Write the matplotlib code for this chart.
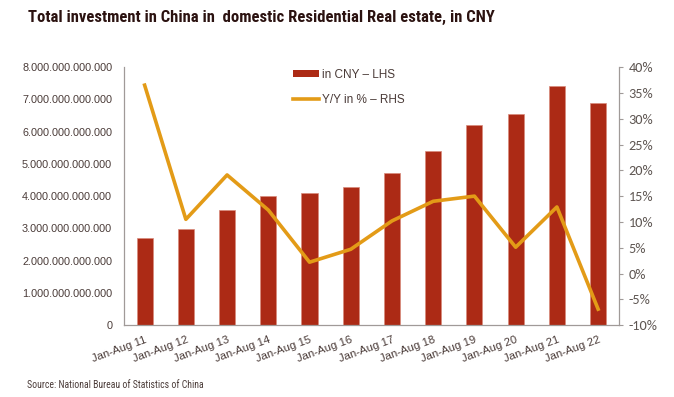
import numpy as np
import matplotlib
matplotlib.use('Agg')
import matplotlib.pyplot as plt
from matplotlib.ticker import FuncFormatter, MultipleLocator
from matplotlib.lines import Line2D
from matplotlib.patches import Patch

# Данные
labels = ['Jan-Aug 11', 'Jan-Aug 12', 'Jan-Aug 13', 'Jan-Aug 14', 'Jan-Aug 15', 'Jan-Aug 16',
          'Jan-Aug 17', 'Jan-Aug 18', 'Jan-Aug 19', 'Jan-Aug 20', 'Jan-Aug 21', 'Jan-Aug 22']
invest_cny = [2.70e12, 2.98e12, 3.57e12, 4.00e12, 4.09e12, 4.28e12,
              4.71e12, 5.40e12, 6.20e12, 6.54e12, 7.41e12, 6.88e12]
yoy_pct = [36.5, 10.5, 19.1, 12.3, 2.2, 4.7, 10.2, 14.0, 15.0, 5.1, 12.9, -6.9]

bar_color = '#AC2A15'
line_color = '#E39B17'
text_color = '#4a3b38'
axis_color = '#a09a98'

narrow = ['Roboto Condensed', 'Liberation Sans', 'DejaVu Sans']

fig = plt.figure(figsize=(6.74, 3.97), dpi=100)
ax = fig.add_axes([0.184, 0.181, 0.734, 0.650])
ax2 = ax.twinx()

x = np.arange(len(labels))
ax.bar(x, invest_cny, width=0.39, color=bar_color, edgecolor='#d88a7c', linewidth=0.5, zorder=2)
ax2.plot(x, yoy_pct, color=line_color, linewidth=2.6, zorder=3)

ax.set_xlim(-0.5, len(labels) - 0.5)
ax.set_ylim(0, 8e12)
ax.yaxis.set_major_locator(MultipleLocator(1e12))
ax.yaxis.set_major_formatter(FuncFormatter(lambda v, p: f'{int(round(v)):,}'.replace(',', '.')))
ax2.set_ylim(-10, 40)
ax2.yaxis.set_major_locator(MultipleLocator(5))
ax2.yaxis.set_major_formatter(FuncFormatter(lambda v, p: f'{int(round(v))}%'))

ax.set_xticks(x)
ax.set_xticklabels(labels, rotation=20, ha='right', rotation_mode='anchor',
                   fontsize=8.2, family='Liberation Sans', color=text_color)
ax.tick_params(axis='x', length=0, pad=7)
ax.tick_params(axis='y', length=0, pad=8.5, labelsize=7.8, labelcolor=text_color)
for t in ax.get_yticklabels():
    t.set_family('Liberation Sans')
ax2.tick_params(axis='y', length=3, width=0.8, color=axis_color, pad=4,
                labelsize=10.3, labelcolor='#5e5652')
for t in ax2.get_yticklabels():
    t.set_family(['Carlito', 'DejaVu Sans'])

for a in (ax, ax2):
    a.spines['top'].set_visible(False)
    for s in ('left', 'right', 'bottom'):
        a.spines[s].set_color(axis_color)
        a.spines[s].set_linewidth(0.9)
ax.spines['right'].set_visible(False)
ax2.spines['left'].set_visible(False)
ax2.spines['bottom'].set_visible(False)

handles = [Patch(facecolor=bar_color, edgecolor='none'),
           Line2D([0], [0], color=line_color, linewidth=2.6)]
leg = ax2.legend(handles, ['in CNY – LHS', 'Y/Y in % – RHS'], loc='upper left',
                 bbox_to_anchor=(0.32, 1.035), frameon=False, handlelength=2.2,
                 handleheight=0.5, handletextpad=0.3, labelspacing=1.15,
                 prop={'family': 'Liberation Sans', 'size': 8.5})
for t in leg.get_texts():
    t.set_color(text_color)

fig.text(0.042, 0.957, 'Total investment in China in  domestic Residential Real estate, in CNY',
         fontsize=12, fontweight='bold', family=narrow, color='#2b1210', va='center')
fig.text(0.040, 0.030, 'Source: National Bureau of Statistics of China',
         fontsize=7, family=narrow, color=text_color, va='center')

fig.savefig('out.png', dpi=100)
